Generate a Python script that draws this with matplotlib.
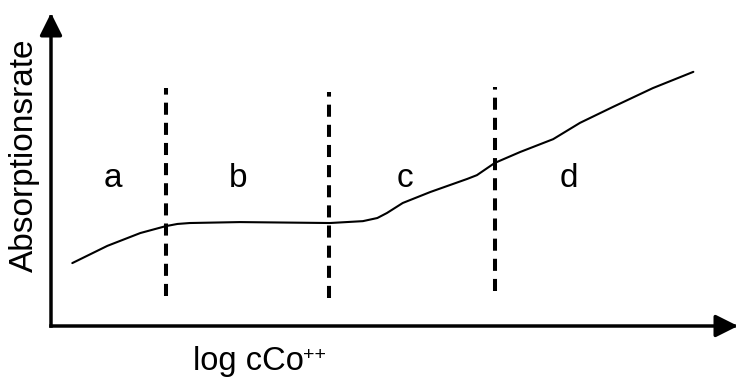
import numpy as np
import matplotlib
matplotlib.use('Agg')
import matplotlib.pyplot as plt

plt.rcParams['font.family'] = ['Liberation Sans', 'DejaVu Sans']

# Absorption rate vs. log concentration (schematic, arbitrary units)
log_c = [0.31, 0.82, 1.30, 1.67, 1.84, 2.02, 2.75, 4.06, 4.54, 4.75, 4.89,
         5.12, 5.52, 6.06, 6.20, 6.46, 6.83, 7.31, 7.70, 8.18, 8.76, 9.35]
rate = [2.01, 2.56, 2.97, 3.19, 3.26, 3.29, 3.32, 3.29, 3.35, 3.45, 3.61,
        3.93, 4.28, 4.70, 4.82, 5.21, 5.56, 5.97, 6.49, 7.00, 7.60, 8.12]

# Region boundaries (dashed) and their vertical extent
boundaries = [1.67, 4.05, 6.46]
boundary_bottom = [0.96, 0.89, 1.12]
boundary_top = [7.60, 7.48, 7.64]

regions = ['a', 'b', 'c', 'd']
region_label_x = [0.90, 2.72, 5.15, 7.54]
region_label_y = 4.44

fig = plt.figure(figsize=(7.38, 3.77), dpi=100)
ax = fig.add_axes([51 / 738, 51 / 377, 687 / 738, 313 / 377])
ax.set_xlim(0, 10)
ax.set_ylim(0, 10)
ax.axis('off')

# curve
ax.plot(log_c, rate, color='black', lw=1.5, solid_capstyle='round',
        solid_joinstyle='round')

# dashed region separators
for xb, y0, y1 in zip(boundaries, boundary_bottom, boundary_top):
    line, = ax.plot([xb, xb], [y0, y1], color='black', lw=2.9)
    line.set_dashes((3, 2))
    line.set_dash_capstyle('butt')

for lab, xl in zip(regions, region_label_x):
    ax.text(xl, region_label_y, lab, fontsize=24, ha='center', va='baseline')

# axes with arrowheads
arrow_kw = dict(arrowstyle='-|>', lw=2.5, color='black', mutation_scale=34,
                shrinkA=0, shrinkB=0, capstyle='projecting')
ax.annotate('', xy=(1, 0), xytext=(0, 0), xycoords='axes fraction',
            arrowprops=arrow_kw, annotation_clip=False)
ax.annotate('', xy=(0, 1), xytext=(0, 0), xycoords='axes fraction',
            arrowprops=arrow_kw, annotation_clip=False)

fig.text(24 / 738, 1 - 155 / 377, 'Absorptionsrate', rotation=90,
         fontsize=24, ha='center', va='center')
fig.text(193 / 738, 7 / 377, 'log cCo', fontsize=23.5,
         ha='left', va='baseline')
fig.text(303 / 738, 1 - 356 / 377, '++', fontsize=14,
         ha='left', va='center')

fig.savefig('out.png', dpi=100, facecolor='white')
